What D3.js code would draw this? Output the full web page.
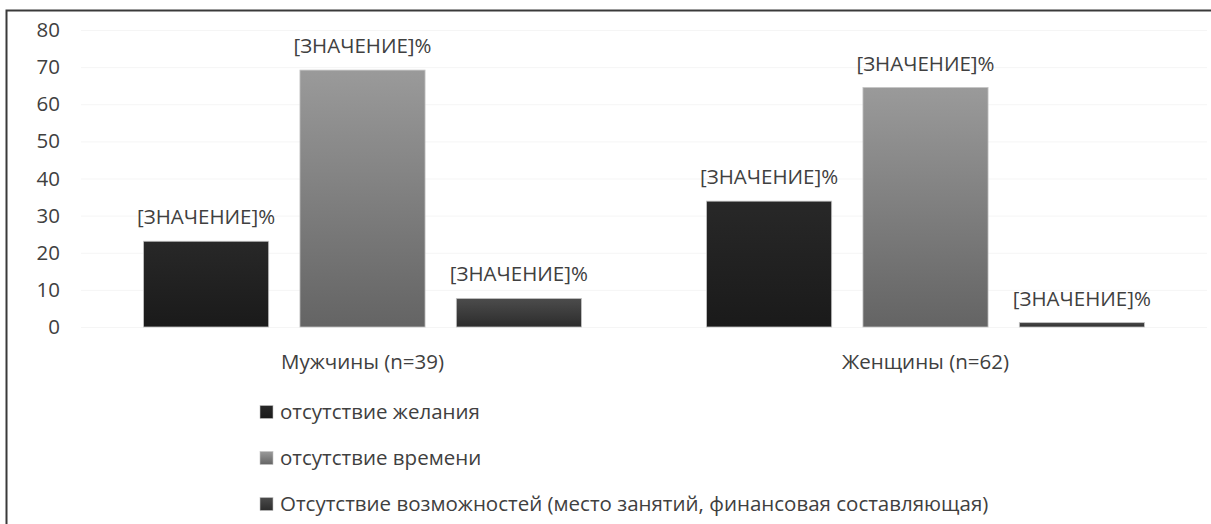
<!DOCTYPE html>
<html>
<head>
<meta charset="utf-8">
<script src="https://cdn.jsdelivr.net/npm/d3@7"></script>
<style>
  html, body { margin: 0; padding: 0; background: #fff; }
  svg { display: block; }
  text { font-family: "Open Sans", "Noto Sans", sans-serif; fill: #404040; }
</style>
</head>
<body>
<svg id="chart" width="1211" height="524"></svg>
<script>
// Groups along the x axis
const categories = ["Мужчины (n=39)", "Женщины (n=62)"];

// Reasons (series)
const seriesNames = [
  "отсутствие желания",
  "отсутствие времени",
  "Отсутствие возможностей (место занятий, финансовая составляющая)"
];

// Percent values per group, one array per series
const noDesire = [23.1, 33.9];
const noTime = [69.2, 64.5];
const noOpportunity = [7.7, 1.2];
const seriesValues = [noDesire, noTime, noOpportunity];

// Text shown above each bar
const barLabel = "[ЗНАЧЕНИЕ]%";

// Y axis ticks
const yTicks = [0, 10, 20, 30, 40, 50, 60, 70, 80];

// Gradient stops (top, bottom) for each series
const seriesGradients = [
  ["#282828", "#1a1a1a"],
  ["#9a9a9a", "#646464"],
  ["#4c4c4c", "#2c2c2c"]
];

const FONT = "'Open Sans', 'Noto Sans', sans-serif";
const FS = 20.5;

const svg = d3.select("#chart");
const W = 1211, H = 524;

// Outer frame
svg.append("rect")
  .attr("x", 6.5).attr("y", 10.5)
  .attr("width", W + 10).attr("height", H + 10)
  .attr("fill", "#fff")
  .attr("stroke", "#3a3a3a")
  .attr("stroke-width", 2);

const defs = svg.append("defs");
seriesGradients.forEach((g, i) => {
  const lg = defs.append("linearGradient")
    .attr("id", "grad" + i)
    .attr("x1", 0).attr("y1", 0).attr("x2", 0).attr("y2", 1);
  lg.append("stop").attr("offset", "0%").attr("stop-color", g[0]);
  lg.append("stop").attr("offset", "100%").attr("stop-color", g[1]);
});

const plotLeft = 81, plotRight = 1207, plotTop = 30, plotBottom = 327;

const y = d3.scaleLinear().domain([0, 80]).range([plotBottom, plotTop]);
const x0 = d3.scaleBand().domain(categories).range([plotLeft, plotRight]);
const x1 = d3.scaleBand()
  .domain(d3.range(seriesNames.length))
  .range([0, x0.bandwidth()])
  .paddingInner(0.2)
  .paddingOuter(0.4);

// Gridlines
svg.append("g")
  .selectAll("line")
  .data(yTicks)
  .join("line")
  .attr("x1", plotLeft).attr("x2", plotRight)
  .attr("y1", d => y(d) + 0.5).attr("y2", d => y(d) + 0.5)
  .attr("stroke", "#f5f5f5")
  .attr("stroke-width", 1);

// Y axis labels
const yAxis = d3.axisLeft(y).tickValues(yTicks).tickSize(0).tickPadding(0);
const yg = svg.append("g")
  .attr("transform", `translate(60,0)`)
  .call(yAxis);
yg.select(".domain").remove();
yg.selectAll("text")
  .attr("font-size", FS)
  .attr("font-family", FONT)
  .attr("fill", "#404040");

// Bars
const groups = svg.append("g")
  .selectAll("g")
  .data(categories)
  .join("g")
  .attr("transform", d => `translate(${x0(d)},0)`);

groups.each(function(cat, ci) {
  const g = d3.select(this);
  const rows = seriesValues.map((vals, si) => ({ si, v: vals[ci] }));
  g.selectAll("rect")
    .data(rows)
    .join("rect")
    .attr("x", d => x1(d.si))
    .attr("y", d => y(d.v))
    .attr("width", x1.bandwidth())
    .attr("height", d => y(0) - y(d.v))
    .attr("fill", d => `url(#grad${d.si})`)
    .attr("stroke", "#c4c4c4")
    .attr("stroke-width", 0.8);
  g.selectAll("text")
    .data(rows)
    .join("text")
    .attr("x", d => x1(d.si) + x1.bandwidth() / 2)
    .attr("y", d => y(d.v) - 17)
    .attr("text-anchor", "middle")
    .attr("font-size", FS)
    .text(barLabel);
});

// Category labels
const xAxis = d3.axisBottom(x0).tickSize(0).tickPadding(0);
const xg = svg.append("g")
  .attr("transform", `translate(0,${plotBottom + 27})`)
  .call(xAxis);
xg.select(".domain").remove();
xg.selectAll("text")
  .attr("font-size", FS)
  .attr("font-family", FONT)
  .attr("fill", "#404040");

// Legend
const legendY = d3.scalePoint().domain(d3.range(seriesNames.length)).range([412, 504]);
const legend = svg.append("g")
  .selectAll("g")
  .data(seriesNames)
  .join("g")
  .attr("transform", (d, i) => `translate(260,${legendY(i)})`);
legend.append("rect")
  .attr("x", 0).attr("y", -6.5)
  .attr("width", 13).attr("height", 13)
  .attr("fill", (d, i) => `url(#grad${i})`)
  .attr("stroke", "#c4c4c4")
  .attr("stroke-width", 0.6);
legend.append("text")
  .attr("x", 20)
  .attr("dy", "0.35em")
  .attr("font-size", FS)
  .text(d => d);
</script>
</body>
</html>
